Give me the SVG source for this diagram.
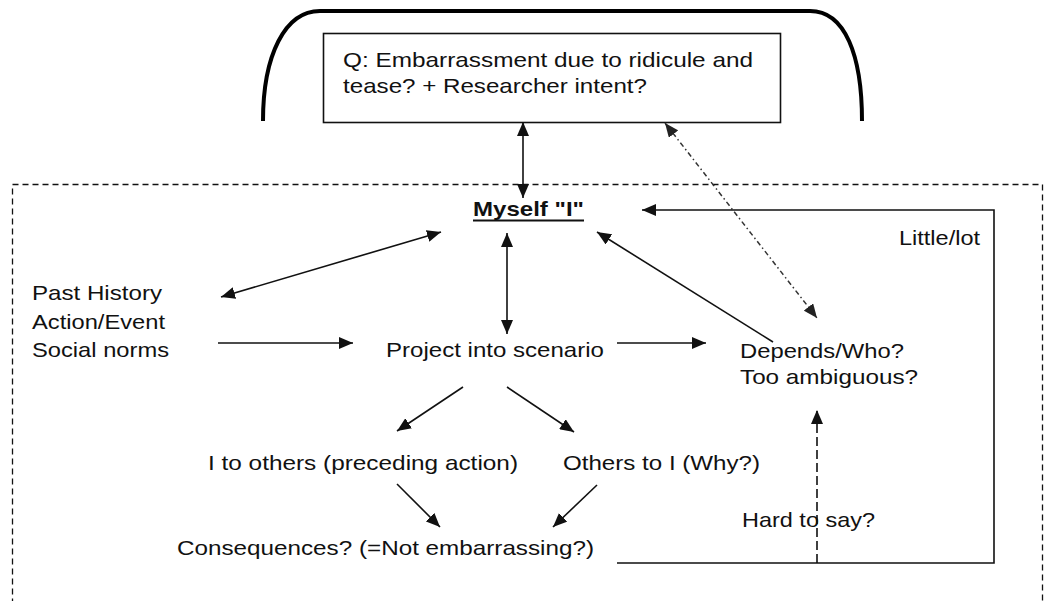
<svg xmlns="http://www.w3.org/2000/svg" width="1046" height="601" viewBox="0 0 1046 601">
<style>
text{font-family:"Liberation Sans",Arial,sans-serif;font-size:21px;fill:#111;}
.b{font-weight:bold;}
.ln{stroke:#111;stroke-width:1.6;fill:none;}
.ar{marker-end:url(#ah);}
.dar{marker-start:url(#ah);marker-end:url(#ah);}
</style>
<defs>
<marker id="ah" viewBox="0 0 14 12" refX="14" refY="6" markerWidth="14" markerHeight="12" markerUnits="userSpaceOnUse" orient="auto-start-reverse"><path d="M0,0 L14,6 L0,12 z" fill="#111"/></marker>
<marker id="ahg" viewBox="0 0 14 12" refX="14" refY="6" markerWidth="14" markerHeight="12" markerUnits="userSpaceOnUse" orient="auto-start-reverse"><path d="M0,0 L14,6 L0,12 z" fill="#222"/></marker>
</defs>
<rect width="1046" height="601" fill="#fff"/>

<g id="frame">
<path d="M263,121 C263,55 285,11 320,11 L810,11 C845,11 862,55 862,121" fill="none" stroke="#000" stroke-width="4"/>
<rect x="12.5" y="184.5" width="1030" height="440" fill="none" stroke="#111" stroke-width="1.3" stroke-dasharray="6,4"/>
</g>

<g id="question">
<rect x="323.5" y="33.5" width="457" height="89" fill="#fff" stroke="#111" stroke-width="1.6"/>
<text x="343" y="67" textLength="410" lengthAdjust="spacingAndGlyphs">Q: Embarrassment due to ridicule and</text>
<text x="343" y="93" textLength="304" lengthAdjust="spacingAndGlyphs">tease? + Researcher intent?</text>
</g>

<g id="myself">
<text class="b" x="473" y="216" textLength="111" lengthAdjust="spacingAndGlyphs">Myself "I"</text>
<line x1="473" y1="220.5" x2="584" y2="220.5" stroke="#111" stroke-width="2"/>
</g>

<g id="past">
<text x="32" y="300" textLength="130" lengthAdjust="spacingAndGlyphs">Past History</text>
<text x="32" y="329" textLength="133" lengthAdjust="spacingAndGlyphs">Action/Event</text>
<text x="32" y="357" textLength="137" lengthAdjust="spacingAndGlyphs">Social norms</text>
</g>

<g id="project">
<text x="386" y="357" textLength="218" lengthAdjust="spacingAndGlyphs">Project into scenario</text>
</g>

<g id="depends">
<text x="740" y="358" textLength="164" lengthAdjust="spacingAndGlyphs">Depends/Who?</text>
<text x="740" y="384" textLength="178" lengthAdjust="spacingAndGlyphs">Too ambiguous?</text>
</g>

<g id="little">
<text x="899" y="245" textLength="81" lengthAdjust="spacingAndGlyphs">Little/lot</text>
</g>

<g id="itoothers">
<text x="208" y="470" textLength="310" lengthAdjust="spacingAndGlyphs">I to others (preceding action)</text>
</g>

<g id="otherstoi">
<text x="563" y="470" textLength="197" lengthAdjust="spacingAndGlyphs">Others to I (Why?)</text>
</g>

<g id="consequences">
<text x="177" y="555" textLength="417" lengthAdjust="spacingAndGlyphs">Consequences? (=Not embarrassing?)</text>
</g>

<g id="hard">
<text x="742" y="527" textLength="133" lengthAdjust="spacingAndGlyphs">Hard to say?</text>
</g>

<g id="connectors">
<line class="ln dar" x1="523" y1="122" x2="523" y2="198"/>
<line x1="665" y1="123" x2="817" y2="318" stroke="#333" stroke-width="1.5" stroke-dasharray="5,3,1.5,3" marker-start="url(#ahg)" marker-end="url(#ahg)"/>
<line class="ln dar" x1="221" y1="297" x2="441" y2="232"/>
<line class="ln dar" x1="507" y1="233" x2="507" y2="334"/>
<line class="ln ar" x1="218" y1="343" x2="353" y2="343"/>
<line class="ln ar" x1="617" y1="343" x2="706" y2="343"/>
<line class="ln ar" x1="773" y1="342" x2="597" y2="232"/>
<polyline class="ln ar" points="617,563 994,563 994,210 642,210"/>
<line x1="817" y1="563" x2="817" y2="410" stroke="#111" stroke-width="1.6" stroke-dasharray="9,4" marker-end="url(#ah)"/>
<line class="ln ar" x1="463" y1="387" x2="397" y2="431"/>
<line class="ln ar" x1="507" y1="387" x2="574" y2="432"/>
<line class="ln ar" x1="397" y1="484" x2="440" y2="527"/>
<line class="ln ar" x1="597" y1="485" x2="553" y2="527"/>
</g>
</svg>
